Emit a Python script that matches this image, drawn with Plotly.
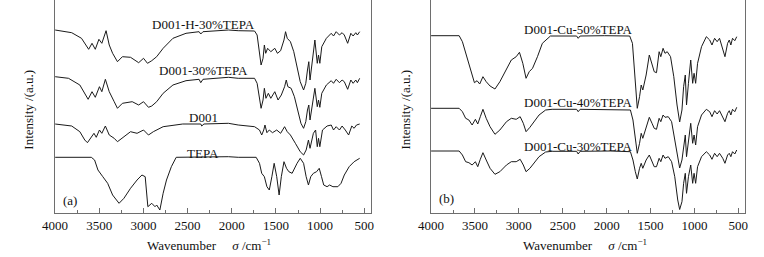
import plotly.graph_objects as go

# ---------------- Panel (a) data ----------------
h30_wn = [4000,3812,3701,3645,3620,3582,3545,3504,3471,3423,3387,3349,3294,3238,3146,3054,2999,2954,2906,2850,
          2777,2666,2518,2370,2351,2326,2038,1927,1742,1713,1686,1668,1646,1631,1616,1594,1558,1513,1483,1447,
          1409,1391,1372,1336,1298,1261,1225,1187,1162,1143,1128,1114,1084,1059,1032,1018,1003,981,929,874,
          848,818,781,751,726,688,652,626,596,578,552]
h30_int = [183,180.3,174.7,166.3,163.7,169.7,163.7,173.7,169.7,182.3,168,159.7,151.3,156.3,155.7,150.3,154.7,149.7,152.3,156.3,
           164.7,174.7,179.7,181.3,179,181.3,183,182.3,182,178,159.7,148,154.7,168,159.7,164.7,161.3,164.7,159.7,162.3,
           173,181.3,174.7,171.3,161.3,144.7,131.3,123,129.7,143,151.3,133,158,173,149.7,158,149.7,166.3,174.7,179.7,
           177,181.3,178,180.3,178,169.7,179.7,177,180.3,178,181.3]

d30_wn = [4000,3848,3720,3664,3626,3582,3545,3498,3471,3431,3387,3331,3294,3238,3127,3054,2999,2943,2906,2850,
          2777,2666,2518,2370,2351,2326,2038,1927,1742,1713,1686,1668,1646,1631,1613,1586,1558,1513,1476,1439,
          1402,1383,1365,1328,1291,1254,1217,1187,1162,1143,1128,1114,1084,1059,1032,1018,1003,981,929,874,
          848,818,781,751,726,688,652,626,596,578,552]
d30_int = [136.3,134.7,128,119.7,113.7,121.3,115.7,126.3,121.3,133.7,121.3,111.3,104.7,109.7,111.3,108,111.3,105.7,107,111.3,
           119.7,128,132.3,133.7,130.3,133.7,135.7,134.7,134.7,129.7,113,104.7,113,124.7,114.7,119.7,114.7,121.3,113,118,
           126.3,133,126.3,124.7,116.3,103,89.7,84.7,91.3,103,108,93,109.7,124.7,106.3,113,105.7,119.7,128,132.3,
           129.7,133.7,130.3,133,131.3,123.7,133,129.7,133,130.3,134.7]

d001_wn = [4000,3812,3720,3664,3634,3590,3560,3534,3498,3471,3431,3387,3331,3294,3221,3146,3072,2999,2943,2888,
           2777,2555,2351,2340,2315,2038,1927,1742,1686,1661,1638,1624,1602,1575,1539,1491,1447,1402,1372,1336,
           1280,1225,1187,1158,1132,1114,1076,1051,1032,1018,1003,973,921,874,848,818,781,751,715,677,
           641,615,588,552]
d001_int = [89,87,81.3,73,70.3,76.3,79.7,75.7,83,79.7,87,78,74.7,71.3,76.3,81.3,79.7,83,78,81.3,
            86.3,89,89,87,89,89.7,88,86.3,83,78,83,88,80.3,83,80.3,83,79.7,86.3,81.3,78,
            69.7,61.3,58,63,73,64.7,79.7,83,66.3,74.7,66.3,83,87,88,83,86.3,83,87,83,78,
            87,84.7,88,89]

tepa_wn = [4000,3590,3553,3515,3460,3405,3349,3276,3221,3146,3072,3017,2980,2950,2906,2869,2850,2814,2777,2739,
           2684,2629,2038,1927,1724,1686,1661,1631,1602,1575,1546,1520,1491,1464,1439,1409,1380,1354,1317,1291,
           1261,1225,1187,1158,1132,1106,1076,1040,1010,984,959,921,892,855,799,763,726,671,615,552]
tepa_int = [55.7,55.7,53,43,36.3,29.7,18,9.7,14.7,24.7,33,38,36.3,6.3,9.7,6.3,8,3,19.7,33,
            46.3,55.7,56.3,55.7,55.7,49.7,39.7,36.3,26.3,23,36.3,49.7,36.3,18,36.3,51.3,44.7,41.3,39.7,44.7,
            49.7,54.7,49.7,36.3,28,36.3,39.7,41.3,44.7,36.3,28,26.3,28,26.3,26.3,29.7,38,46.3,51.3,54.7]

# ---------------- Panel (b) data ----------------
cu_wn = [4000,3680,3643,3606,3569,3532,3506,3476,3446,3409,3372,3328,3272,3216,3141,3086,3030,2993,2955,2918,
         2882,2844,2788,2732,2640,2342,2324,2302,2026,1960,1737,1706,1681,1651,1625,1606,1588,1550,1514,1483,
         1458,1432,1402,1383,1357,1335,1310,1272,1235,1198,1168,1142,1123,1104,1090,1068,1042,1020,1004,986,
         964,919,864,826,800,770,741,714,677,652,622,603,585,566,540,518]
cu50_int = [177.3,177.3,171.3,159.7,148,136.3,130.3,132.3,129,136.3,131.3,127,124,131.3,144.7,153,156.3,160.7,149.7,134.7,
            141.3,144.7,156.3,169.7,177,177,174.7,177,177.3,177.3,177,169.7,136.3,104.7,116.3,128,123,138,158,149.7,
            141.3,140.3,161.3,156.3,164.7,159.7,161.3,156.3,136.3,108,91,103,126.3,138,108,129.7,153,129.7,139.7,129.7,
            149.7,166.3,176.3,173,168,174.7,171.3,174.7,164.7,156.3,169.7,173,168,174.7,172.3,176.3]

cu40_wn = [4000,3680,3643,3606,3569,3532,3495,3468,3439,3409,3372,3328,3272,3216,3141,3086,3030,2985,2949,2918,
           2874,2826,2770,2695,2621,2342,2324,2302,2026,1960,1729,1700,1673,1651,1625,1606,1588,1550,1514,1483,
           1458,1432,1402,1383,1357,1335,1298,1260,1224,1190,1168,1142,1123,1104,1090,1068,1042,1020,1004,986,
           964,919,864,826,800,770,741,714,677,652,622,603,585,566,540,518]
cu40_int = [104.7,104.7,101.3,94.7,93,88,93.7,89,96.3,103.7,94.7,86.3,78.7,83,91.3,94.7,93.7,96.3,89.7,81.3,
            85.7,91.3,98,103,103.7,103.7,101.3,103.7,103.7,103.7,103,93,76.3,59.7,69.7,79.7,74.7,86.3,95.7,89.7,
            84.7,83.7,94.7,91.3,98,95.7,96.3,91.3,73,53,45,53,68,78,56.3,73,89.7,69.7,78,68,
            86.3,98,103.7,101.3,96.3,102.3,99,102.3,96.3,91.3,99.7,102.3,98,103.7,101.3,105.7]
cu30_int = [62,62,58,51.3,50.3,48,51.3,46.3,53.7,60.3,53,44.7,38.7,41.3,48,51.3,51.3,53.7,48,41.3,
            44.7,49.7,56.3,61,61.7,61.7,59,61.7,62,62,61.3,53,41.3,34,44.7,49.7,44.7,53,58,51.3,
            46.3,46.3,54.7,51.3,58,54.7,56.3,51.3,36.3,13,3.5,11.3,29.7,39.7,19.7,36.3,48,29.7,39.7,29.7,
            46.3,56.3,61.3,58,53.7,59.7,56.3,59.7,54.7,49.7,58,59.7,56.3,61.3,59,63]

x_ticks = [4000, 3500, 3000, 2500, 2000, 1500, 1000, 500]
x_minor = [3750, 3250, 2750, 2250, 1750, 1250, 750]

FONT = "Liberation Serif, Times New Roman, serif"
LINE = dict(color="#1a1a1a", width=1)

fig = go.Figure()
for wn, it in [(h30_wn, h30_int), (d30_wn, d30_int), (d001_wn, d001_int), (tepa_wn, tepa_int)]:
    fig.add_trace(go.Scatter(x=wn, y=it, mode="lines", line=LINE, xaxis="x", yaxis="y",
                             showlegend=False, hoverinfo="skip"))
fig.add_trace(go.Scatter(x=cu_wn, y=cu50_int, mode="lines", line=LINE, xaxis="x2", yaxis="y2",
                         showlegend=False, hoverinfo="skip"))
for it in [cu40_int, cu30_int]:
    fig.add_trace(go.Scatter(x=cu40_wn, y=it, mode="lines", line=LINE, xaxis="x2", yaxis="y2",
                             showlegend=False, hoverinfo="skip"))

W, H = 764, 257
PH = 213  # plot-area height in px
AX_COLOR = "#6e6e6e"

def xax(domain):
    return dict(domain=domain, range=[4000, 420], tickvals=x_ticks,
                ticks="inside", ticklen=5, tickwidth=1, tickcolor=AX_COLOR,
                minor=dict(ticks="inside", tickvals=x_minor, ticklen=3, tickcolor=AX_COLOR),
                showline=True, linecolor=AX_COLOR, linewidth=1, mirror=False,
                showgrid=False, zeroline=False,
                tickfont=dict(family=FONT, size=13, color="#111"))

def yax(anchor):
    return dict(domain=[0, 1], range=[0, 213], anchor=anchor, showticklabels=False, ticks="",
                showline=True, linecolor=AX_COLOR, linewidth=1, mirror=True,
                showgrid=False, zeroline=False)

fig.update_layout(
    width=W, height=H, autosize=False,
    margin=dict(l=0, r=0, t=0, b=H - PH, pad=0),
    paper_bgcolor="white", plot_bgcolor="white",
    xaxis=dict(xax([43 / W, 366 / W]), anchor="y"),
    yaxis=yax("x"),
    xaxis2=dict(xax([427 / W, 748 / W]), anchor="y2"),
    yaxis2=yax("x2"),
)

ann_font = dict(family=FONT, size=13, color="#111")
annotations = [
    dict(x=2320, y=189, xref="x", yref="y", text="D001-H-30%TEPA"),
    dict(x=2320, y=143, xref="x", yref="y", text="D001-30%TEPA"),
    dict(x=2320, y=96, xref="x", yref="y", text="D001"),
    dict(x=2320, y=60, xref="x", yref="y", text="TEPA"),
    dict(x=3830, y=13, xref="x", yref="y", text="(a)"),
    dict(x=2330, y=184, xref="x2", yref="y2", text="D001-Cu-50%TEPA"),
    dict(x=2330, y=111, xref="x2", yref="y2", text="D001-Cu-40%TEPA"),
    dict(x=2330, y=67, xref="x2", yref="y2", text="D001-Cu-30%TEPA"),
    dict(x=3825, y=15, xref="x2", yref="y2", text="(b)"),
]
for a in annotations:
    a.update(showarrow=False, font=ann_font, xanchor="center", yanchor="middle")
    fig.add_annotation(**a)

title_font = dict(family=FONT, size=13, color="#111")
for xc in [200 / W, 584 / W]:
    fig.add_annotation(x=xc, y=(PH - 245) / PH, xref="paper", yref="paper", showarrow=False,
                       text="Wavenumber&nbsp;&nbsp;&nbsp;&nbsp;&nbsp;<i>σ</i> /cm<sup>−1</sup>",
                       font=title_font, xanchor="center", yanchor="middle")
for xc in [15 / W, 400 / W]:
    fig.add_annotation(x=xc, y=(PH - 110) / PH, xref="paper", yref="paper", showarrow=False,
                       text="Intensity /(a.u.)", textangle=-90,
                       font=title_font, xanchor="center", yanchor="middle")

fig.write_html(
    "out.html",
    config={"displayModeBar": False, "responsive": False},
    post_script="document.body.style.margin='0';document.body.style.overflow='hidden';"
                "document.documentElement.style.overflow='hidden';",
)
